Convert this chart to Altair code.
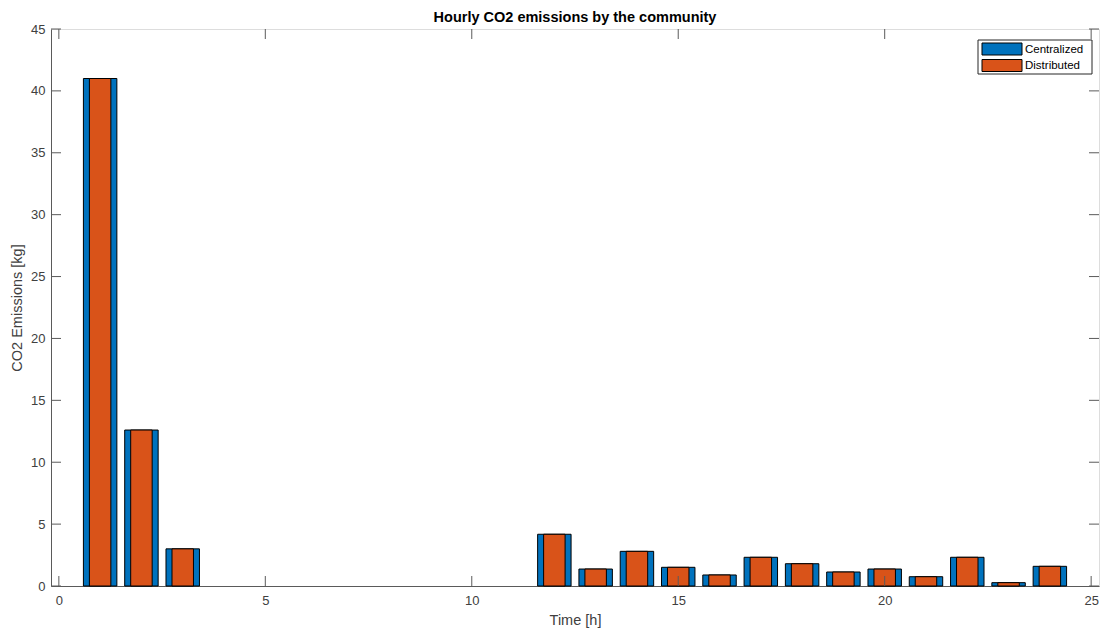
import altair as alt
import pandas as pd

# ---- data ----
hours = list(range(1, 25))
centralized = [41.0, 12.6, 3.0, 0, 0, 0, 0, 0, 0, 0, 0,
               4.18, 1.37, 2.80, 1.51, 0.89, 2.32, 1.80, 1.13, 1.37,
               0.75, 2.32, 0.27, 1.59]
distributed = [41.0, 12.6, 3.0, 0, 0, 0, 0, 0, 0, 0, 0,
               4.18, 1.37, 2.80, 1.51, 0.89, 2.32, 1.80, 1.13, 1.37,
               0.75, 2.32, 0.27, 1.59]
x_ticks = [0, 5, 10, 15, 20, 25]
y_ticks = [0, 5, 10, 15, 20, 25, 30, 35, 40, 45]
series_names = ["Centralized", "Distributed"]

# ---- styles ----
BLUE = "#0072BD"
ORANGE = "#D95319"
AXC = "#5a5a5a"
TXT = "#404040"
FONT = "Liberation Sans"
W, H = 1048, 557
TICK = 10

xs = alt.Scale(domain=[-0.19, 25.19], nice=False, zero=False)
ys = alt.Scale(domain=[0, 45], nice=False, zero=True)

cdf = pd.DataFrame({"hour": hours, "value": centralized})
ddf = pd.DataFrame({"hour": hours, "value": distributed})

x_axis = alt.Axis(values=x_ticks, ticks=False, grid=False, domain=True,
                  domainColor=AXC, labelColor=TXT, labelFontSize=13,
                  labelFont=FONT, labelPadding=8, title="Time [h]",
                  titleFont=FONT, titleFontSize=14.5, titleFontWeight="normal",
                  titleColor=TXT, titlePadding=6, labelFlush=False)
y_axis = alt.Axis(values=y_ticks, ticks=False, grid=False, domain=True,
                  domainColor=AXC, labelColor=TXT, labelFontSize=13,
                  labelFont=FONT, labelPadding=6, title="CO2 Emissions [kg]",
                  titleFont=FONT, titleFontSize=14.5, titleFontWeight="normal",
                  titleColor=TXT, titlePadding=6, labelFlush=False)

bars_c = alt.Chart(cdf).transform_filter("datum.value > 0").transform_calculate(
    x0="datum.hour - 0.405", x1="datum.hour + 0.405", base="0"
).mark_rect(color=BLUE, stroke="black", strokeWidth=1).encode(
    x=alt.X("x0:Q", scale=xs, axis=x_axis),
    x2="x1:Q",
    y=alt.Y("value:Q", scale=ys, axis=y_axis),
    y2="base:Q",
)

bars_d = alt.Chart(ddf).transform_filter("datum.value > 0").transform_calculate(
    x0="datum.hour - 0.26", x1="datum.hour + 0.26", base="0"
).mark_rect(color=ORANGE, stroke="black", strokeWidth=1).encode(
    x=alt.X("x0:Q", scale=xs),
    x2="x1:Q",
    y=alt.Y("value:Q", scale=ys),
    y2="base:Q",
)

xt = pd.DataFrame({"t": x_ticks})
yt = pd.DataFrame({"t": y_ticks})
tick_bottom = alt.Chart(xt).mark_rule(color=AXC, strokeWidth=1).encode(
    x=alt.X("t:Q", scale=xs), y=alt.value(H), y2=alt.value(H - TICK))
tick_top = alt.Chart(xt).mark_rule(color=AXC, strokeWidth=1).encode(
    x=alt.X("t:Q", scale=xs), y=alt.value(0), y2=alt.value(TICK))
tick_left = alt.Chart(yt).mark_rule(color=AXC, strokeWidth=1).encode(
    y=alt.Y("t:Q", scale=ys), x=alt.value(0), x2=alt.value(TICK))
tick_right = alt.Chart(yt).mark_rule(color=AXC, strokeWidth=1).encode(
    y=alt.Y("t:Q", scale=ys), x=alt.value(W), x2=alt.value(W - TICK))

# ---- legend (drawn inside the plot, top right) ----
leg = pd.DataFrame({"name": series_names, "i": [0, 1]})
legend_frame = alt.Chart(pd.DataFrame({"a": [0]})).mark_rect(
    fill="white", stroke="#262626", strokeWidth=1).encode(
    x=alt.value(927), x2=alt.value(1041), y=alt.value(11), y2=alt.value(45))
legend_sw = alt.Chart(leg).transform_calculate(
    y0="14 + datum.i * 16.5", y1="26 + datum.i * 16.5"
).mark_rect(stroke="black", strokeWidth=1).encode(
    x=alt.value(931), x2=alt.value(971),
    y=alt.Y("y0:Q", scale=None), y2="y1:Q",
    fill=alt.Fill("name:N", scale=alt.Scale(domain=series_names, range=[BLUE, ORANGE]), legend=None),
)
legend_tx = alt.Chart(leg).transform_calculate(
    ty="20.5 + datum.i * 16.5"
).mark_text(align="left", baseline="middle", font=FONT, fontSize=11.5, color="#000").encode(
    x=alt.value(974), y=alt.Y("ty:Q", scale=None), text="name:N")

chart = alt.layer(
    bars_c, bars_d, tick_bottom, tick_top, tick_left, tick_right,
    legend_frame, legend_sw, legend_tx
).properties(
    width=W, height=H,
    title=alt.TitleParams("Hourly CO2 emissions by the community", font=FONT,
                          fontSize=14.5, fontWeight="bold", color="#000",
                          anchor="middle", offset=-2),
    autosize=alt.AutoSizeParams(type="none"),
    padding={"left": 51, "top": 29, "right": 6, "bottom": 49},
).configure_view(stroke=AXC, strokeWidth=1).configure(background="white")

chart.save("out.html", embed_options={"renderer": "svg", "actions": False})
